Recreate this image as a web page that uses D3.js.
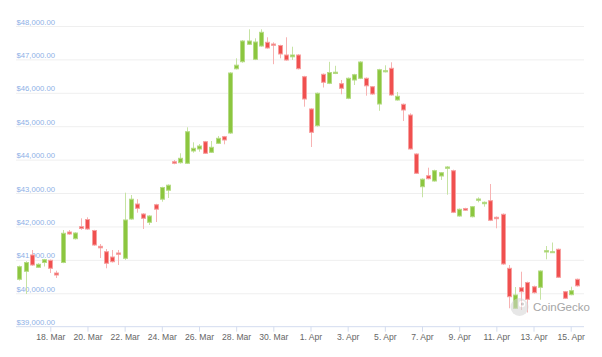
<!DOCTYPE html>
<html><head><meta charset="utf-8">
<script src="https://cdn.jsdelivr.net/npm/d3@7"></script>
<style>body{margin:0;background:#fff}svg{display:block}</style>
</head><body>
<svg id="c" width="602" height="357"></svg>
<script>
const startTime = "2022-03-16T08:00:00Z";
const stepHours = 8;
const open = [40419,40658,41146,40778,40922,40987,40607,40922,41834,41634,
41993,42208,41879,41406,41245,41086,41206,41047,42223,42672,
42373,42125,42651,42816,43085,43938,43909,43891,44259,44319,
44537,44220,44489,44687,44797,46719,46931,47452,47003,47401,
47512,47461,47416,47132,47078,47132,46483,45516,45016,46554,
46285,46578,46273,45836,46384,46435,46435,46183,45665,46629,
46734,45785,45656,45336,44169,43190,43519,43361,43510,43741,
43669,42313,42538,42292,42783,42681,42771,42274,42364,40748,
39551,40167,40323,40197,40179,41236,41227,41317,40048,39958,
40419];
const close = [40796,40922,40847,40868,41005,40748,40547,41796,41775,41804,
41939,41924,41445,41361,40898,40945,41167,42194,42816,42544,
42244,42313,42517,43166,43235,43891,44040,44836,44340,44408,
44190,44369,44639,44588,46593,46827,47551,47551,47521,47811,
47342,47422,47162,46982,47132,46722,45815,44818,45986,46315,
46608,46617,46135,46435,46542,46922,46210,45965,46692,46662,
45935,45896,45486,44319,43591,43415,43430,43669,43609,43780,
42424,42514,42487,42592,42822,42723,42185,42232,40877,39898,
39949,40048,39820,40018,40667,41275,41245,40479,39850,40078,
40224];
const high = [40830,40960,41296,40900,41030,41010,40676,41894,41894,41830,
42244,42274,41900,41475,41326,41296,41296,43011,42942,42816,
42400,42340,42680,43190,43260,43989,44190,44968,44519,44468,
44560,44558,44708,44710,46620,47033,47580,47901,47632,47901,
47662,47512,47440,47662,47380,47160,46510,45540,46010,46580,
46928,46809,46384,46460,46570,46950,46460,46200,46720,46824,
46914,46025,45680,45387,44190,43440,43759,43700,43630,43810,
43700,42540,42560,42610,42873,42750,43271,42300,42390,40847,
40188,40646,40350,40230,40690,41415,41520,41340,40070,40197,
40440];
const low = [40380,39979,40820,40760,40802,40607,40458,40900,41750,41610,
41900,41900,41420,41056,40748,40920,40847,41000,42200,42412,
41924,42044,42134,42741,42852,43861,43880,43870,44208,44238,
44170,44200,44470,44459,44770,46700,46900,47430,46980,47380,
47320,46857,47033,46960,46982,46700,45585,44378,44990,46159,
46260,46560,45956,45810,46234,46410,45914,45940,45462,46610,
45910,45765,45157,44300,43570,42873,43410,43340,43391,42951,
42400,42290,42470,42270,42723,42592,42160,41945,40850,39551,
39530,39500,39425,39990,39808,41017,41210,40460,39830,39940,
40200];
const yTicks = [39000,40000,41000,42000,43000,44000,45000,46000,47000,48000];
const xTickDates = ["2022-03-18","2022-03-20","2022-03-22","2022-03-24","2022-03-26","2022-03-28","2022-03-30","2022-04-01","2022-04-03","2022-04-05","2022-04-07","2022-04-09","2022-04-11","2022-04-13","2022-04-15"];
const xTickLabels = ["18. Mar","20. Mar","22. Mar","24. Mar","26. Mar","28. Mar","30. Mar","1. Apr","3. Apr","5. Apr","7. Apr","9. Apr","11. Apr","13. Apr","15. Apr"];

const svg = d3.select("#c");
const left = 16, right = 584;
const x = d3.scaleUtc()
  .domain([new Date("2022-03-18T00:00:00Z"), new Date("2022-04-15T00:00:00Z")])
  .range([50.3, 570.7]);
const y = d3.scaleLinear().domain([39000, 48000]).range([326.7, 26]);
const fmt = d3.format("$,.2f");

// grid + y labels
const ya = svg.append("g").attr("transform", `translate(${left},0)`)
  .call(d3.axisLeft(y).tickValues(yTicks).tickSize(-(right - left)).tickFormat(fmt));
ya.select(".domain").remove();
ya.selectAll(".tick line").attr("stroke", d => d === 39000 ? "none" : "#efefef").attr("stroke-width", 1);
ya.selectAll(".tick text")
  .attr("x", 0.5).attr("dy", "-2").attr("text-anchor", "start")
  .attr("fill", "#8db0e6").attr("font-size", "7.6px")
  .attr("font-family", "'Liberation Sans', Arial, sans-serif")
  .attr("textLength", 38.5).attr("lengthAdjust", "spacingAndGlyphs");

// x axis baseline
svg.append("line").attr("x1", left).attr("x2", right)
  .attr("y1", y(39000)).attr("y2", y(39000))
  .attr("stroke", "#d3dcef").attr("stroke-width", 1);

const xa = svg.append("g").attr("transform", `translate(0,${y(39000)})`)
  .call(d3.axisBottom(x).tickValues(xTickDates.map(d => new Date(d + "T00:00:00Z")))
    .tickSize(5).tickFormat((d, i) => xTickLabels[i]));
xa.select(".domain").remove();
xa.selectAll(".tick line").attr("stroke", "#d3dcef");
xa.selectAll(".tick text").attr("y", 13.5).attr("dy", 0)
  .attr("fill", "#666").attr("font-size", "8.6px")
  .attr("font-family", "'Liberation Sans', Arial, sans-serif");

// candles
const t0 = new Date(startTime).getTime();
const data = open.map((o, i) => ({
  t: new Date(t0 + i * stepHours * 3600e3), o, c: close[i], h: high[i], l: low[i]
}));
const g = svg.append("g");
data.forEach(d => {
  const cx = Math.round(x(d.t));
  const up = d.c >= d.o;
  g.append("line").attr("x1", cx + 0.5).attr("x2", cx + 0.5)
    .attr("y1", y(d.h)).attr("y2", y(d.l))
    .attr("stroke", up ? "#c6e3a3" : "#f7b3b3").attr("stroke-width", 1);
  const yt = y(Math.max(d.o, d.c)), yb = y(Math.min(d.o, d.c));
  g.append("rect").attr("x", cx - 1.5).attr("width", 4)
    .attr("y", yt).attr("height", Math.max(1, yb - yt))
    .attr("fill", up ? "#8cc63f" : "#f0504f")
    .attr("stroke", up ? "#b5db85" : "#f7a0a0").attr("stroke-width", 1);
});

// watermark
const wm = svg.append("g").attr("opacity", 0.55);
wm.append("circle").attr("cx", 519.5).attr("cy", 307).attr("r", 9).attr("fill", "#d4d4d4");
wm.append("circle").attr("cx", 522).attr("cy", 304).attr("r", 3.2).attr("fill", "#fff");
wm.append("circle").attr("cx", 522.5).attr("cy", 304).attr("r", 1.5).attr("fill", "#aaa");
svg.append("text").attr("x", 533).attr("y", 311).text("CoinGecko")
  .attr("fill", "#a6a6a6").attr("font-size", "11.5px")
  .attr("font-family", "'Liberation Sans', Arial, sans-serif");
</script>
</body></html>
